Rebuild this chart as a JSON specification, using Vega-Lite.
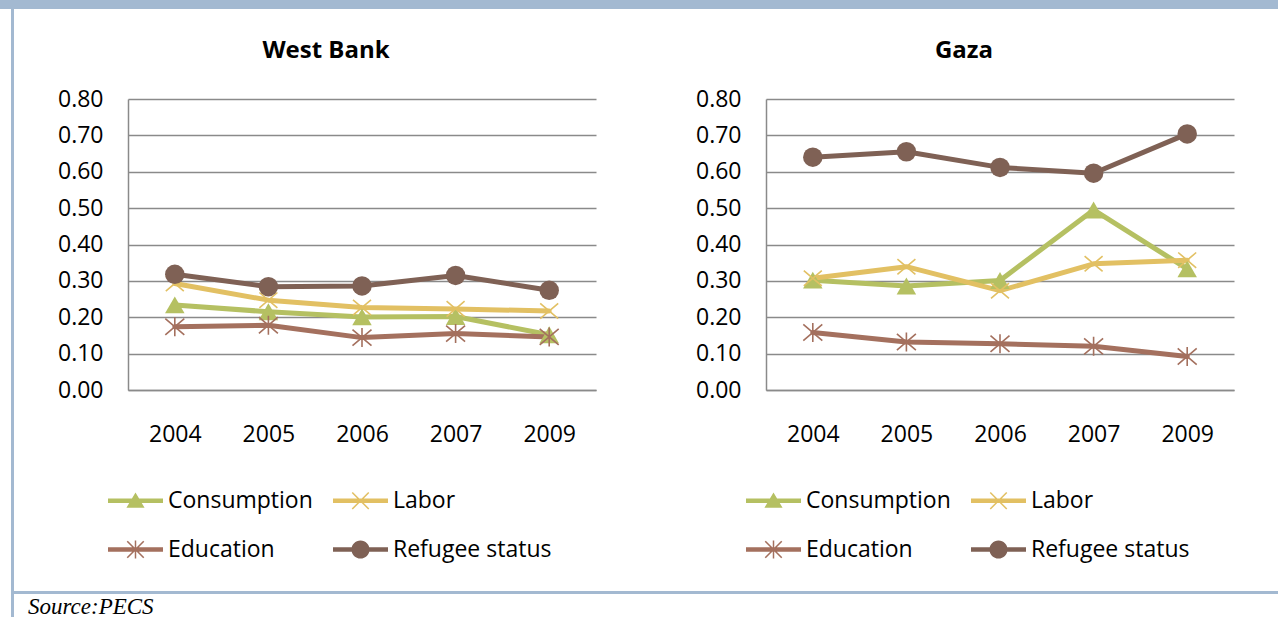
{
  "$schema": "https://vega.github.io/schema/vega-lite/v6.json",
  "padding": 0,
  "background": "#ffffff",
  "config": {
    "view": {"stroke": null},
    "font": "Open Sans",
    "concat": {"spacing": 0}
  },
  "datasets": {
    "westBank": [
      {"year": "2004", "series": "Consumption", "value": 0.234},
      {"year": "2005", "series": "Consumption", "value": 0.215},
      {"year": "2006", "series": "Consumption", "value": 0.201},
      {"year": "2007", "series": "Consumption", "value": 0.202},
      {"year": "2009", "series": "Consumption", "value": 0.152},
      {"year": "2004", "series": "Labor", "value": 0.293},
      {"year": "2005", "series": "Labor", "value": 0.247},
      {"year": "2006", "series": "Labor", "value": 0.227},
      {"year": "2007", "series": "Labor", "value": 0.223},
      {"year": "2009", "series": "Labor", "value": 0.217},
      {"year": "2004", "series": "Education", "value": 0.174},
      {"year": "2005", "series": "Education", "value": 0.178},
      {"year": "2006", "series": "Education", "value": 0.144},
      {"year": "2007", "series": "Education", "value": 0.155},
      {"year": "2009", "series": "Education", "value": 0.146},
      {"year": "2004", "series": "Refugee status", "value": 0.318},
      {"year": "2005", "series": "Refugee status", "value": 0.284},
      {"year": "2006", "series": "Refugee status", "value": 0.286},
      {"year": "2007", "series": "Refugee status", "value": 0.315},
      {"year": "2009", "series": "Refugee status", "value": 0.274}
    ],
    "gaza": [
      {"year": "2004", "series": "Consumption", "value": 0.302},
      {"year": "2005", "series": "Consumption", "value": 0.286},
      {"year": "2006", "series": "Consumption", "value": 0.301},
      {"year": "2007", "series": "Consumption", "value": 0.495},
      {"year": "2009", "series": "Consumption", "value": 0.333},
      {"year": "2004", "series": "Labor", "value": 0.307},
      {"year": "2005", "series": "Labor", "value": 0.339},
      {"year": "2006", "series": "Labor", "value": 0.273},
      {"year": "2007", "series": "Labor", "value": 0.347},
      {"year": "2009", "series": "Labor", "value": 0.357},
      {"year": "2004", "series": "Education", "value": 0.158},
      {"year": "2005", "series": "Education", "value": 0.132},
      {"year": "2006", "series": "Education", "value": 0.127},
      {"year": "2007", "series": "Education", "value": 0.120},
      {"year": "2009", "series": "Education", "value": 0.092},
      {"year": "2004", "series": "Refugee status", "value": 0.640},
      {"year": "2005", "series": "Refugee status", "value": 0.655},
      {"year": "2006", "series": "Refugee status", "value": 0.612},
      {"year": "2007", "series": "Refugee status", "value": 0.596},
      {"year": "2009", "series": "Refugee status", "value": 0.704}
    ]
  },
  "bounds": "flush",
  "vconcat": [
    {
      "width": 1278, "height": 9,
      "view": {"fill": "#a3b9d1", "stroke": null},
      "data": {"values": []},
      "mark": "point",
      "encoding": {}
    },
    {
      "bounds": "flush",
      "hconcat": [
        {
          "width": 11, "height": 608,
          "view": {"stroke": null},
          "data": {"values": []},
          "mark": "point",
          "encoding": {}
        },
        {
          "width": 3, "height": 608,
          "view": {"fill": "#a3b9d1", "stroke": null},
          "data": {"values": []},
          "mark": "point",
          "encoding": {}
        },
        {
          "bounds": "flush",
          "vconcat": [
            {
              "width": 10, "height": 90,
              "view": {"stroke": null},
              "data": {"values": []},
              "mark": "point",
              "encoding": {}
            },
            {
              "bounds": "flush",
              "hconcat": [
                {
                  "width": 114, "height": 10,
                  "view": {"stroke": null},
                  "data": {"values": []},
                  "mark": "point",
                  "encoding": {}
                },
                {
                  "bounds": "flush",
                  "spacing": 170,
                  "resolve": {"scale": {"color": "independent", "shape": "independent"}},
                  "hconcat": [
                    {
                      "width": 468, "height": 291,
                      "title": {"text": "West Bank", "font": "Open Sans", "fontSize": 24, "fontWeight": "bold", "color": "#000000", "anchor": "middle", "baseline": "alphabetic", "offset": 6, "dx": -36},
                      "data": {"name": "westBank"},
                      "encoding": {
                        "x": {"field": "year", "type": "ordinal", "scale": {"type": "point", "padding": 0.5},
                              "axis": {"title": null, "labelAngle": 0, "ticks": false, "domain": true, "domainColor": "#8a8a8a", "domainWidth": 1.5, "grid": false, "labelPadding": 33, "labelFont": "Open Sans", "labelFontSize": 23, "labelColor": "#000000"}},
                        "y": {"field": "value", "type": "quantitative", "scale": {"domain": [0, 0.8], "nice": false, "zero": true},
                              "axis": {"title": null, "values": [0, 0.1, 0.2, 0.3, 0.4, 0.5, 0.6, 0.7, 0.8], "format": ".2f", "ticks": false, "domain": true, "domainColor": "#8a8a8a", "domainWidth": 1.5, "grid": true, "gridColor": "#8a8a8a", "gridWidth": 1.5, "labelPadding": 25, "labelFont": "Open Sans", "labelFontSize": 23, "labelColor": "#000000"}},
                        "color": {"field": "series", "type": "nominal", "legend": null,
                                  "scale": {"domain": ["Consumption", "Labor", "Education", "Refugee status"], "range": ["#b5c062", "#e2c063", "#a4705e", "#7f6155"]}}
                      },
                      "layer": [
                        {"mark": {"type": "point", "filled": true, "opacity": 0},
                         "encoding": {
                           "color": {"field": "series", "type": "nominal",
                                     "legend": {"orient": "none", "direction": "horizontal", "legendX": -20, "legendY": 374, "columns": 2, "title": null, "symbolSize": 3025, "symbolStrokeWidth": 0, "symbolOpacity": 1, "labelFont": "Open Sans", "labelFontSize": 23, "labelColor": "#000000", "labelOffset": 5, "labelLimit": 400, "columnPadding": 20, "rowPadding": 9, "padding": 0}},
                           "shape": {"field": "series", "type": "nominal",
                                     "scale": {"domain": ["Consumption", "Labor", "Education", "Refugee status"],
                                               "range": [
                                                 "M-1,-0.08L1,-0.08L1,0.08L-1,0.08ZM-0.33,0.25L0,-0.3L0.33,0.25Z",
                                                 "M-1,-0.08L1,-0.08L1,0.08L-1,0.08ZM-0.28,-0.32L0.32,0.28L0.28,0.32L-0.32,-0.28ZM-0.32,0.28L0.28,-0.32L0.32,-0.28L-0.28,0.32Z",
                                                 "M-1,-0.08L1,-0.08L1,0.08L-1,0.08ZM-0.28,-0.32L0.32,0.28L0.28,0.32L-0.32,-0.28ZM-0.32,0.28L0.28,-0.32L0.32,-0.28L-0.28,0.32ZM-0.027,-0.33L0.027,-0.33L0.027,0.33L-0.027,0.33Z",
                                                 "M-1,-0.08L1,-0.08L1,0.08L-1,0.08ZM-0.33,0A0.33,0.33 0 1,1 0.33,0A0.33,0.33 0 1,1 -0.33,0Z"
                                               ]},
                                     "legend": {"orient": "none", "direction": "horizontal", "legendX": -20, "legendY": 374, "columns": 2, "title": null, "symbolSize": 3025, "symbolStrokeWidth": 0, "symbolOpacity": 1, "labelFont": "Open Sans", "labelFontSize": 23, "labelColor": "#000000", "labelOffset": 5, "labelLimit": 400, "columnPadding": 20, "rowPadding": 9, "padding": 0}}
                         }},
                        {"mark": {"type": "line", "strokeWidth": 5, "strokeCap": "round", "strokeJoin": "round"}},
                        {"transform": [{"filter": "datum.series === 'Consumption'"}],
                         "mark": {"type": "point", "shape": "triangle-up", "filled": true, "size": 380, "opacity": 1}},
                        {"transform": [{"filter": "datum.series === 'Labor'"}],
                         "mark": {"type": "point", "shape": "M-1,-0.85L1,0.85M-1,0.85L1,-0.85", "filled": false, "size": 324, "strokeWidth": 1.6, "opacity": 1}},
                        {"transform": [{"filter": "datum.series === 'Education'"}],
                         "mark": {"type": "point", "shape": "M-1,-0.85L1,0.85M-1,0.85L1,-0.85M0,-1L0,1", "filled": false, "size": 361, "strokeWidth": 1.6, "opacity": 1}},
                        {"transform": [{"filter": "datum.series === 'Refugee status'"}],
                         "mark": {"type": "point", "shape": "circle", "filled": true, "size": 380, "opacity": 1}}
                      ]
                    },
                    {
                      "width": 468, "height": 291,
                      "title": {"text": "Gaza", "font": "Open Sans", "fontSize": 24, "fontWeight": "bold", "color": "#000000", "anchor": "middle", "baseline": "alphabetic", "offset": 6, "dx": -36},
                      "data": {"name": "gaza"},
                      "encoding": {
                        "x": {"field": "year", "type": "ordinal", "scale": {"type": "point", "padding": 0.5},
                              "axis": {"title": null, "labelAngle": 0, "ticks": false, "domain": true, "domainColor": "#8a8a8a", "domainWidth": 1.5, "grid": false, "labelPadding": 33, "labelFont": "Open Sans", "labelFontSize": 23, "labelColor": "#000000"}},
                        "y": {"field": "value", "type": "quantitative", "scale": {"domain": [0, 0.8], "nice": false, "zero": true},
                              "axis": {"title": null, "values": [0, 0.1, 0.2, 0.3, 0.4, 0.5, 0.6, 0.7, 0.8], "format": ".2f", "ticks": false, "domain": true, "domainColor": "#8a8a8a", "domainWidth": 1.5, "grid": true, "gridColor": "#8a8a8a", "gridWidth": 1.5, "labelPadding": 25, "labelFont": "Open Sans", "labelFontSize": 23, "labelColor": "#000000"}},
                        "color": {"field": "series", "type": "nominal", "legend": null,
                                  "scale": {"domain": ["Consumption", "Labor", "Education", "Refugee status"], "range": ["#b5c062", "#e2c063", "#a4705e", "#7f6155"]}}
                      },
                      "layer": [
                        {"mark": {"type": "point", "filled": true, "opacity": 0},
                         "encoding": {
                           "color": {"field": "series", "type": "nominal",
                                     "legend": {"orient": "none", "direction": "horizontal", "legendX": -20, "legendY": 374, "columns": 2, "title": null, "symbolSize": 3025, "symbolStrokeWidth": 0, "symbolOpacity": 1, "labelFont": "Open Sans", "labelFontSize": 23, "labelColor": "#000000", "labelOffset": 5, "labelLimit": 400, "columnPadding": 20, "rowPadding": 9, "padding": 0}},
                           "shape": {"field": "series", "type": "nominal",
                                     "scale": {"domain": ["Consumption", "Labor", "Education", "Refugee status"],
                                               "range": [
                                                 "M-1,-0.08L1,-0.08L1,0.08L-1,0.08ZM-0.33,0.25L0,-0.3L0.33,0.25Z",
                                                 "M-1,-0.08L1,-0.08L1,0.08L-1,0.08ZM-0.28,-0.32L0.32,0.28L0.28,0.32L-0.32,-0.28ZM-0.32,0.28L0.28,-0.32L0.32,-0.28L-0.28,0.32Z",
                                                 "M-1,-0.08L1,-0.08L1,0.08L-1,0.08ZM-0.28,-0.32L0.32,0.28L0.28,0.32L-0.32,-0.28ZM-0.32,0.28L0.28,-0.32L0.32,-0.28L-0.28,0.32ZM-0.027,-0.33L0.027,-0.33L0.027,0.33L-0.027,0.33Z",
                                                 "M-1,-0.08L1,-0.08L1,0.08L-1,0.08ZM-0.33,0A0.33,0.33 0 1,1 0.33,0A0.33,0.33 0 1,1 -0.33,0Z"
                                               ]},
                                     "legend": {"orient": "none", "direction": "horizontal", "legendX": -20, "legendY": 374, "columns": 2, "title": null, "symbolSize": 3025, "symbolStrokeWidth": 0, "symbolOpacity": 1, "labelFont": "Open Sans", "labelFontSize": 23, "labelColor": "#000000", "labelOffset": 5, "labelLimit": 400, "columnPadding": 20, "rowPadding": 9, "padding": 0}}
                         }},
                        {"mark": {"type": "line", "strokeWidth": 5, "strokeCap": "round", "strokeJoin": "round"}},
                        {"transform": [{"filter": "datum.series === 'Consumption'"}],
                         "mark": {"type": "point", "shape": "triangle-up", "filled": true, "size": 380, "opacity": 1}},
                        {"transform": [{"filter": "datum.series === 'Labor'"}],
                         "mark": {"type": "point", "shape": "M-1,-0.85L1,0.85M-1,0.85L1,-0.85", "filled": false, "size": 324, "strokeWidth": 1.6, "opacity": 1}},
                        {"transform": [{"filter": "datum.series === 'Education'"}],
                         "mark": {"type": "point", "shape": "M-1,-0.85L1,0.85M-1,0.85L1,-0.85M0,-1L0,1", "filled": false, "size": 361, "strokeWidth": 1.6, "opacity": 1}},
                        {"transform": [{"filter": "datum.series === 'Refugee status'"}],
                         "mark": {"type": "point", "shape": "circle", "filled": true, "size": 380, "opacity": 1}}
                      ]
                    }
                  ]
                }
              ]
            },
            {
              "width": 10, "height": 492,
              "view": {"stroke": null},
              "data": {"values": []},
              "mark": "point",
              "encoding": {}
            },
            {
              "width": 1264, "height": 3,
              "view": {"fill": "#a3b9d1", "stroke": null},
              "title": {"text": "Source:PECS", "orient": "bottom", "anchor": "start", "font": "Liberation Serif", "fontStyle": "italic", "fontWeight": "normal", "fontSize": 23, "color": "#000000", "baseline": "alphabetic", "offset": 20, "dx": 14},
              "data": {"values": []},
              "mark": "point",
              "encoding": {}
            }
          ]
        }
      ]
    }
  ]
}
